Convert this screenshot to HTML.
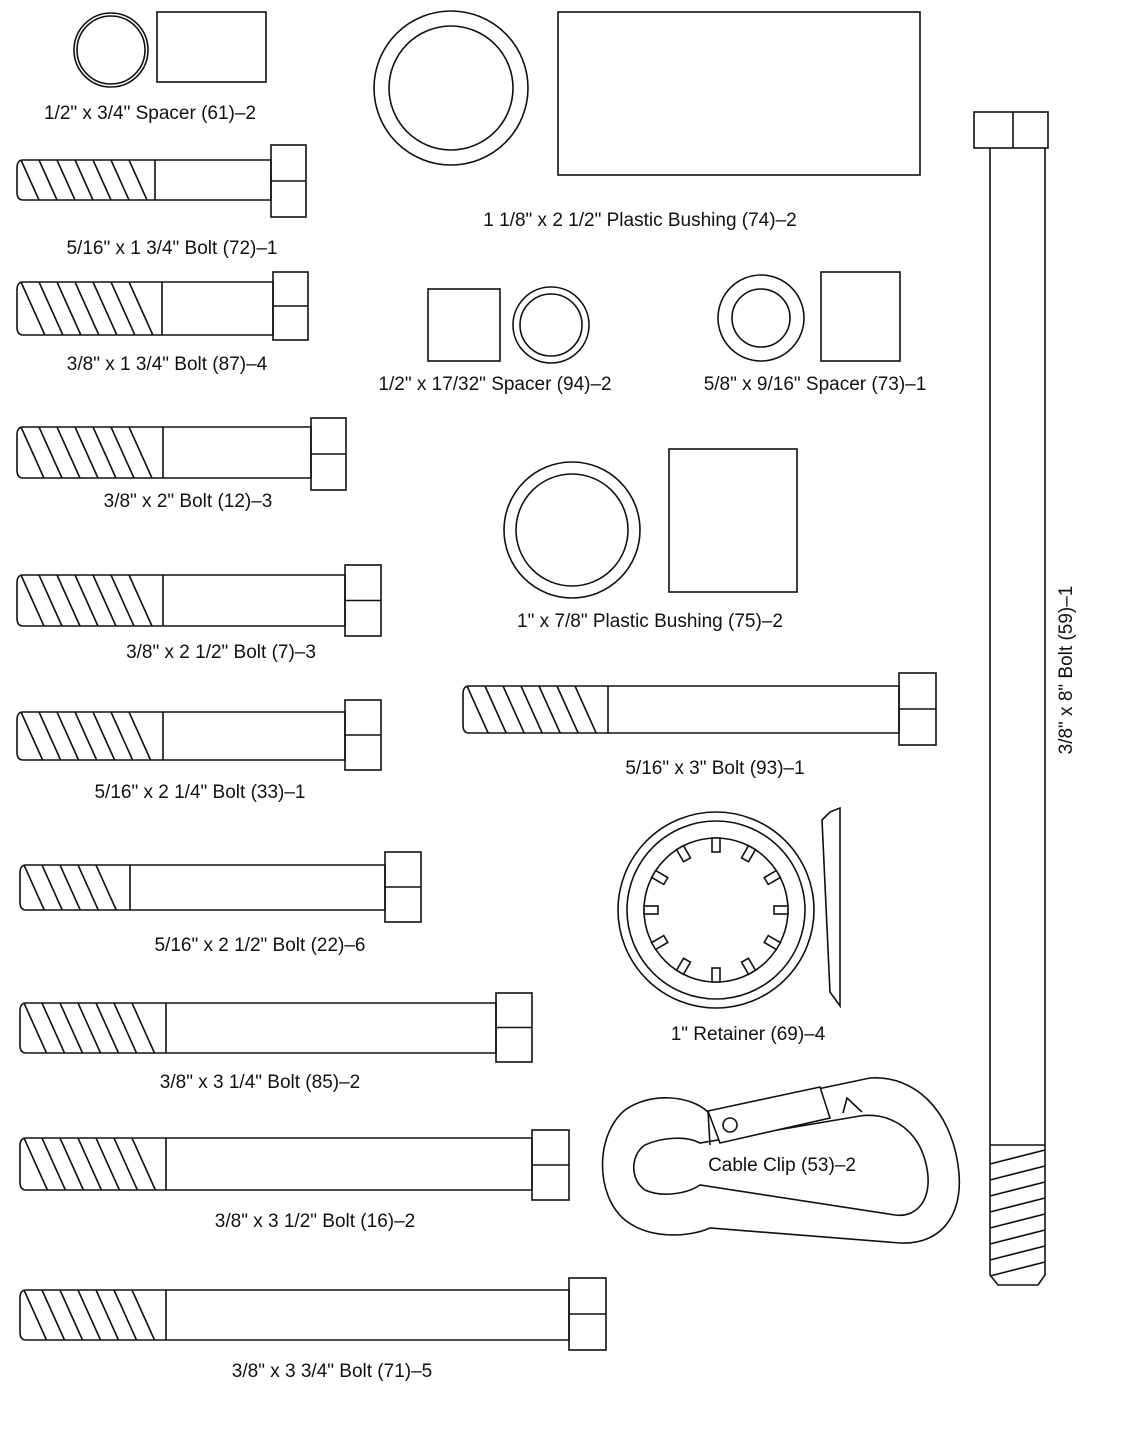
<!DOCTYPE html>
<html><head><meta charset="utf-8"><style>
body{margin:0;background:#fff}
svg{display:block}
text{font-family:"Liberation Sans",Arial,sans-serif;font-size:19px;fill:#111}
</style></head><body>
<svg id="s" width="1138" height="1450" viewBox="0 0 1138 1450" xmlns="http://www.w3.org/2000/svg" fill="none" stroke="#111" stroke-width="1.6">
<circle cx="111" cy="50" r="37"/><circle cx="111" cy="50" r="34"/>
<rect x="157" y="12" width="109" height="70"/>
<text x="150" y="119" text-anchor="middle" stroke="none">1/2" x 3/4" Spacer (61)–2</text>

<circle cx="451" cy="88" r="77"/><circle cx="451" cy="88" r="62"/>
<rect x="558" y="12" width="362" height="163"/>
<text x="640" y="226" text-anchor="middle" stroke="none">1 1/8" x 2 1/2" Plastic Bushing (74)–2</text>

<rect x="428" y="289" width="72" height="72"/>
<circle cx="551" cy="325" r="38"/><circle cx="551" cy="325" r="31"/>
<text x="495" y="390" text-anchor="middle" stroke="none">1/2" x 17/32" Spacer (94)–2</text>

<circle cx="761" cy="318" r="43"/><circle cx="761" cy="318" r="29"/>
<rect x="821" y="272" width="79" height="89"/>
<text x="815" y="390" text-anchor="middle" stroke="none">5/8" x 9/16" Spacer (73)–1</text>

<circle cx="572" cy="530" r="68"/><circle cx="572" cy="530" r="56"/>
<rect x="669" y="449" width="128" height="143"/>
<text x="650" y="627" text-anchor="middle" stroke="none">1" x 7/8" Plastic Bushing (75)–2</text>

<circle cx="716" cy="910" r="98"/><circle cx="716" cy="910" r="89"/>
<circle cx="716" cy="910" r="72"/>
<g id="teeth"></g>
<path d="M830 812 L840 808 L840 1006 L830 992 L822 820 Z"/>
<text x="748" y="1040" text-anchor="middle" stroke="none">1" Retainer (69)–4</text>

<path d="M708 1112 C690 1095 650 1092 625 1110 C595 1135 595 1195 625 1220 C650 1240 690 1237 710 1228 L900 1243 C945 1245 965 1210 958 1165 C950 1110 915 1075 870 1078 Z"/>
<path d="M700 1143 C685 1135 660 1138 645 1145 C630 1155 630 1180 645 1190 C660 1197 685 1195 700 1185 L895 1215 C920 1218 935 1195 925 1160 C915 1125 885 1112 860 1116 Z" fill="#fff"/>
<path d="M708 1111 L820 1087 L830 1118 L720 1143 Z" fill="#fff"/>
<line x1="708" y1="1111" x2="710" y2="1145"/>
<circle cx="730" cy="1125" r="7"/>
<path d="M843 1113 L847 1098 L862 1112"/>
<text x="782" y="1171" text-anchor="middle" stroke="none">Cable Clip (53)–2</text>

<g id="bolts"></g>

<rect x="974" y="112" width="74" height="36"/>
<line x1="1013" y1="112" x2="1013" y2="148"/>
<path d="M990 148 L990 1275 L998 1285 L1038 1285 L1045 1275 L1045 148"/>
<line x1="990" y1="1145" x2="1045" y2="1145"/>
<g id="vthread"></g>
<text transform="translate(1072,670) rotate(-90)" text-anchor="middle" stroke="none">3/8" x 8" Bolt (59)–1</text>
</svg>
<script>
var NS="http://www.w3.org/2000/svg";
function el(p,t,a){var e=document.createElementNS(NS,t);for(var k in a)e.setAttribute(k,a[k]);p.appendChild(e);return e;}
var B=document.getElementById("bolts");
var bolts=[
[17,155,160,200,271,306,145,217,'5/16" x 1 3/4" Bolt (72)–1',172,254],
[17,162,282,335,273,308,272,340,'3/8" x 1 3/4" Bolt (87)–4',167,370],
[17,163,427,478,311,346,418,490,'3/8" x 2" Bolt (12)–3',188,507],
[17,163,575,626,345,381,565,636,'3/8" x 2 1/2"  Bolt (7)–3',221,658],
[17,163,712,760,345,381,700,770,'5/16" x 2 1/4" Bolt (33)–1',200,798],
[20,130,865,910,385,421,852,922,'5/16" x 2 1/2" Bolt (22)–6',260,951],
[20,166,1003,1053,496,532,993,1062,'3/8" x 3 1/4" Bolt (85)–2',260,1088],
[20,166,1138,1190,532,569,1130,1200,'3/8" x 3 1/2" Bolt (16)–2',315,1227],
[20,166,1290,1340,569,606,1278,1350,'3/8" x 3 3/4" Bolt (71)–5',332,1377],
[463,608,686,733,899,936,673,745,'5/16" x 3" Bolt (93)–1',715,774]
];
bolts.forEach(function(b){
 var x0=b[0],te=b[1],t=b[2],bo=b[3],se=b[4],he=b[5],ht=b[6],hb=b[7];
 var h=bo-t;
 el(B,"path",{d:"M"+(x0+6)+" "+t+" L"+se+" "+t+" L"+se+" "+bo+" L"+(x0+6)+" "+bo+" Q"+x0+" "+bo+" "+x0+" "+(bo-8)+" L"+x0+" "+(t+8)+" Q"+x0+" "+t+" "+(x0+6)+" "+t+" Z"});
 el(B,"line",{x1:te,y1:t,x2:te,y2:bo});
 for(var x=x0+4;x+h*0.45<=te+1;x+=18){el(B,"line",{x1:x,y1:t,x2:x+h*0.45,y2:bo});}
 el(B,"rect",{x:se,y:ht,width:he-se,height:hb-ht});
 el(B,"line",{x1:se,y1:(ht+hb)/2,x2:he,y2:(ht+hb)/2});
 var tx=el(B,"text",{x:b[9],y:b[10],"text-anchor":"middle",stroke:"none"});tx.textContent=b[8];
});
var V=document.getElementById("vthread");
for(var y=1150;y<1272;y+=16){el(V,"line",{x1:990,y1:y+14,x2:1045,y2:y});}
var T=document.getElementById("teeth");
for(var i=0;i<12;i++){
 el(T,"rect",{x:-4,y:-72,width:8,height:14,fill:"#fff",transform:"translate(716,910) rotate("+(i*30)+")"});
}
</script>
</body></html>
